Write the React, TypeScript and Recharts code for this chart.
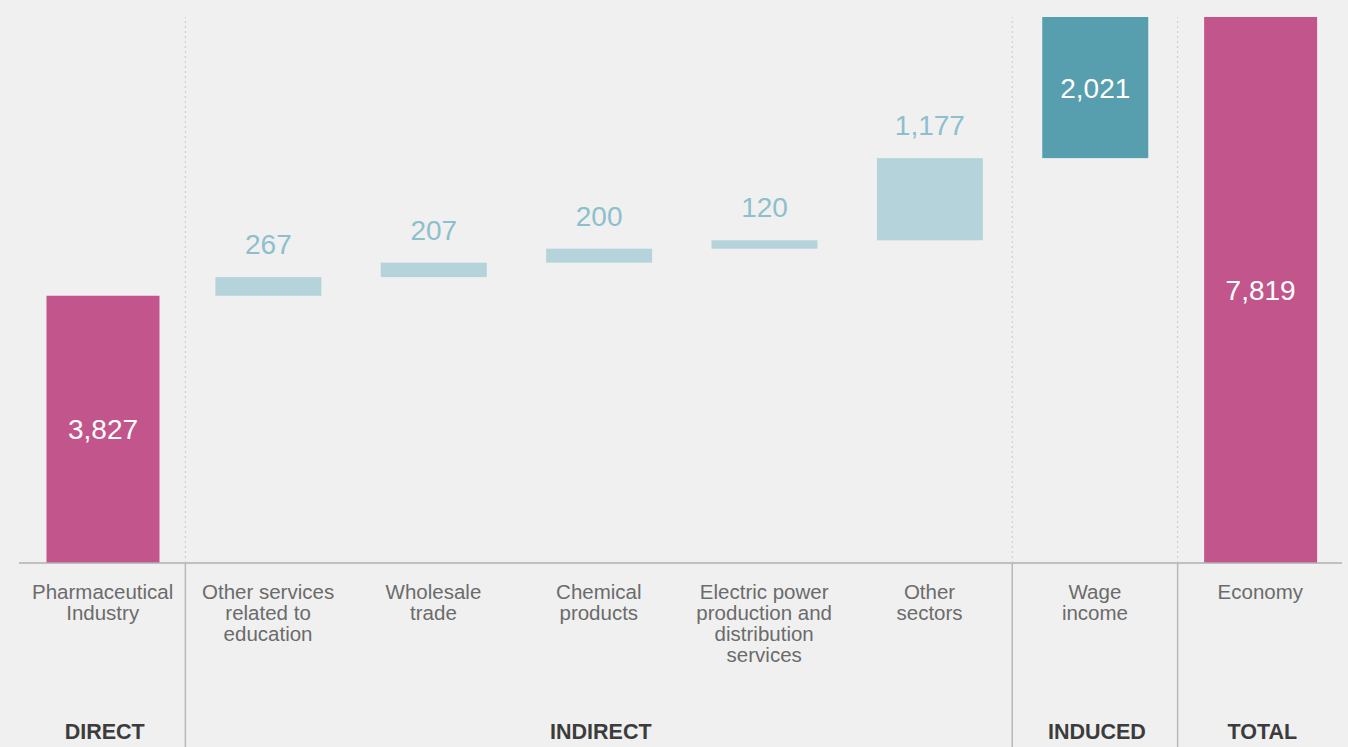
import { BarChart, Bar, XAxis, YAxis, Cell, LabelList } from 'recharts';

// categories, values and grouping
const categories = [
  'Pharmaceutical\nIndustry',
  'Other services\nrelated to\neducation',
  'Wholesale\ntrade',
  'Chemical\nproducts',
  'Electric power\nproduction and\ndistribution\nservices',
  'Other\nsectors',
  'Wage\nincome',
  'Economy',
];
const values = [3827, 267, 207, 200, 120, 1177, 2021, 7819];
const kinds = ['direct', 'indirect', 'indirect', 'indirect', 'indirect', 'indirect', 'induced', 'total'];
const groups = ['DIRECT', 'INDIRECT', 'INDIRECT', 'INDIRECT', 'INDIRECT', 'INDIRECT', 'INDUCED', 'TOTAL'];

const COLORS: Record<string, string> = {
  direct: '#c2568c',
  indirect: '#b4d3da',
  induced: '#579eae',
  total: '#c2568c',
};
const LIGHT_LABEL = '#8dbfcc';
const FONT = '"Liberation Sans", Arial, Helvetica, sans-serif';
const MARGIN = { top: 17, right: 6, left: 19, bottom: 0 };

// waterfall: floating bars start where the running sum left off
let running = 0;
const data = categories.map((name, i) => {
  const kind = kinds[i];
  let base = 0;
  if (kind === 'direct') {
    running = values[i];
  } else if (kind === 'total') {
    base = 0;
  } else {
    base = running;
    running += values[i];
  }
  return { name, base, value: values[i], kind };
});

// index where each group label is centred
const groupLabelIndex: Record<number, string> = {};
groups.forEach((g, i) => {
  if (i > 0 && groups[i - 1] === g) return;
  const idx: number[] = [];
  groups.forEach((h, j) => h === g && idx.push(j));
  groupLabelIndex[idx[Math.floor(idx.length / 2)]] = g;
});

const fmt = (v: number) => v.toLocaleString('en-US');

const BarShape = (props: any) => {
  const { x, y, width, height, payload } = props;
  const wide = payload.kind === 'direct' || payload.kind === 'total';
  const w = wide ? width + 7 : width;
  return <rect x={x + width / 2 - w / 2 + 1} y={y} width={w} height={height} fill={COLORS[payload.kind]} />;
};

const ValueLabel = (props: any) => {
  const { x, y, width, height, value, index } = props;
  const kind = kinds[index];
  const cx = x + width / 2 + 1;
  if (kind === 'indirect') {
    return (
      <text x={cx} y={y - 23} textAnchor="middle" fill={LIGHT_LABEL} fontSize={28} fontFamily={FONT}>
        {fmt(value)}
      </text>
    );
  }
  return (
    <text x={cx} y={y + height / 2 + 10} textAnchor="middle" fill="#ffffff" fontSize={28} fontFamily={FONT}>
      {fmt(value)}
    </text>
  );
};

const CategoryTick = (props: any) => {
  const { x, y, payload, index } = props;
  const i = payload.index ?? index;
  const half = payload.offset ?? 82;
  const lines = categories[i].split('\n');
  const sep = i < groups.length - 1 && groups[i] !== groups[i + 1];
  const tx = x + 1;
  return (
    <g>
      {sep && (
        <>
          <line x1={x + half + 1} x2={x + half + 1} y1={y} y2={MARGIN.top} stroke="#c8c8c8" strokeDasharray="2 3" />
          <line x1={x + half + 1} x2={x + half + 1} y1={y} y2={747} stroke="#b8b8b8" strokeWidth={1.5} />
        </>
      )}
      <text x={tx} y={y + 36} textAnchor="middle" fill="#6b6b6b" fontSize={20.5} fontFamily={FONT}>
        {lines.map((l, k) => (
          <tspan key={k} x={tx} dy={k === 0 ? 0 : 21}>
            {l}
          </tspan>
        ))}
      </text>
      {groupLabelIndex[i] && (
        <text x={tx + 2} y={y + 176} textAnchor="middle" fill="#3c3c3c" fontSize={21.5} fontWeight="bold" fontFamily={FONT}>
          {groupLabelIndex[i]}
        </text>
      )}
    </g>
  );
};

export default function App() {
  return (
    <div style={{ position: 'absolute', left: 0, top: 0, width: 1348, height: 747, background: '#f0f0f0' }}>
      <BarChart width={1348} height={747} data={data} margin={MARGIN} barSize={106}>
        <XAxis
          dataKey="name"
          height={184}
          interval={0}
          tickLine={false}
          tickSize={0}
          tickMargin={0}
          axisLine={{ stroke: '#b0b0b0', strokeWidth: 1.5 }}
          tick={<CategoryTick />}
        />
        <YAxis hide domain={[0, 'dataMax']} />
        <Bar dataKey="base" stackId="w" fill="transparent" isAnimationActive={false} />
        <Bar dataKey="value" stackId="w" shape={<BarShape />} isAnimationActive={false}>
          {data.map((d, i) => (
            <Cell key={`cell-${i}`} fill={COLORS[d.kind]} />
          ))}
          <LabelList dataKey="value" content={<ValueLabel />} />
        </Bar>
      </BarChart>
    </div>
  );
}
